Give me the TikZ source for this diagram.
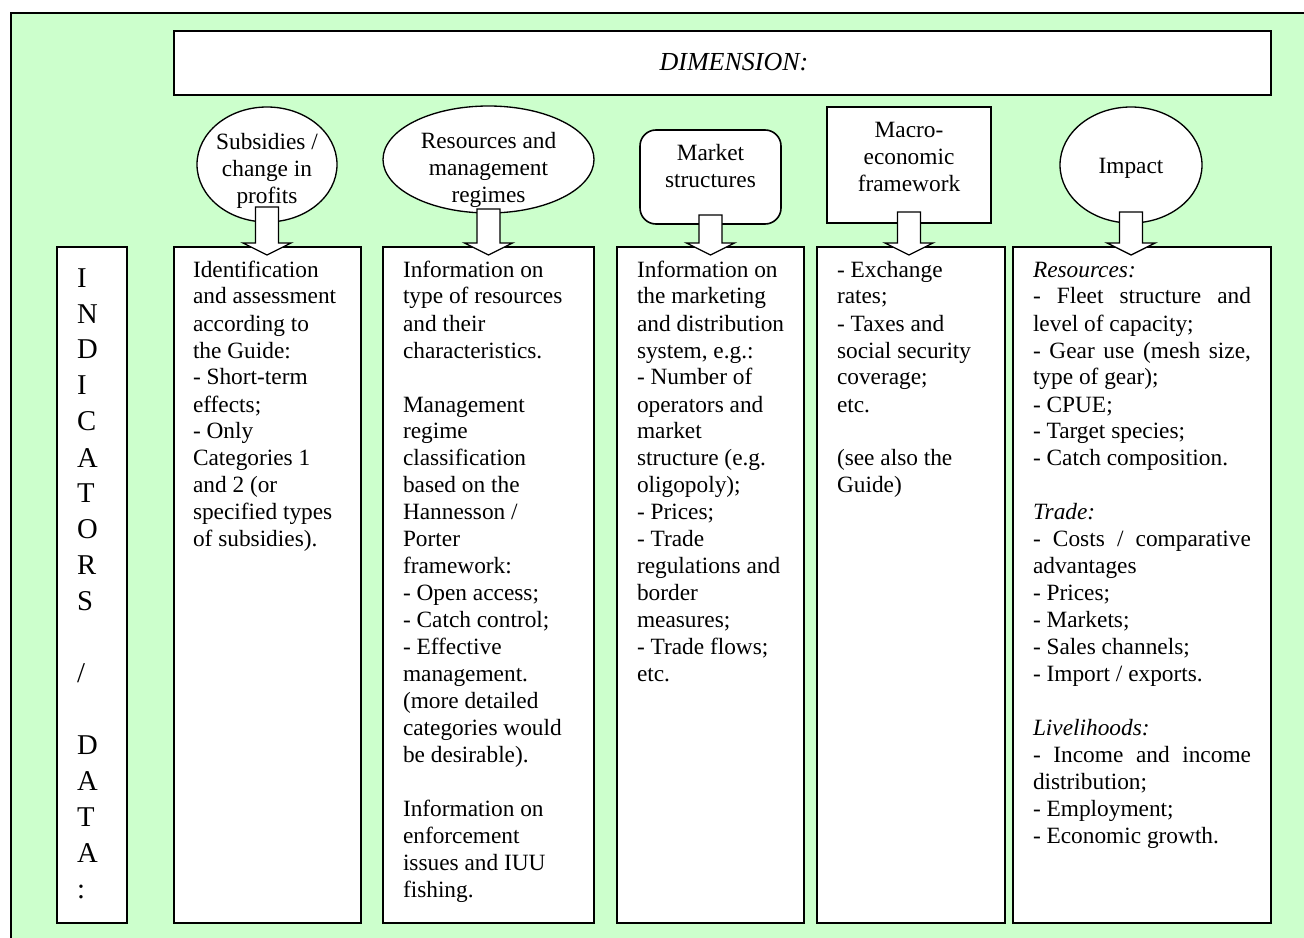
\documentclass[tikz,border=0pt]{standalone}
\usepackage{fontspec}
\setmainfont{Liberation Serif}
\usetikzlibrary{shapes.geometric,calc}
\definecolor{bggreen}{HTML}{CCFFCC}
\newcommand\ltext[1]{\parbox[t]{230pt}{\raggedright\fontsize{17.5}{20.25}\selectfont #1}}
\newcommand\ctext[1]{\parbox[t]{200pt}{\centering\fontsize{17.5}{20.25}\selectfont #1}}
\newcommand\jline[1]{\makebox[163.5pt][s]{#1}}
\newcommand\blockarrow[3]{%
  \coordinate (tip) at ($(#1.south |- #2.north)+(0,8)$);
  \draw[barrow] ($(tip)+(-11.5,-8-#3)$) -- ($(tip)+(-11.5,-12)$) -- ($(tip)+(-24,-12)$)
    -- (tip) -- ($(tip)+(24,-12)$) -- ($(tip)+(11.5,-12)$) -- ($(tip)+(11.5,-8-#3)$) -- cycle;}
\begin{document}
\begin{tikzpicture}[x=0.75pt,y=-0.75pt,
  box/.style={draw=black, line width=1.2pt, fill=white, inner sep=0pt, outer sep=0pt, anchor=north west},
  oval/.style={ellipse, draw=black, line width=1pt, fill=white, inner sep=0pt, outer sep=0pt},
  txt/.style={inner sep=0pt, outer sep=0pt, anchor=base west},
  ctxt/.style={inner sep=0pt, outer sep=0pt, anchor=base},
  barrow/.style={draw=black, line width=1pt, fill=white, line join=miter}]
\useasboundingbox (0,0) rectangle (1304,938);
\clip (0,0) rectangle (1304,938);
\fill[white] (0,0) rectangle (1304,938);
\draw[fill=bggreen, line width=1.1pt] (11,13) rectangle (1330,970);

% title
\node[box, minimum width=1097*0.75pt, minimum height=64*0.75pt] (dim) at (174,31) {};
\node[ctxt, font=\fontsize{19.5}{22}\selectfont\itshape] (dimt) at (734,71) {DIMENSION:};

% upper shapes
\node[oval, minimum width=140*0.75pt, minimum height=115*0.75pt] (e1) at (267,164.5) {};
\node[ctxt] (e1t) at (267,150) {\ctext{Subsidies /\\change in\\profits}};
\node[oval, minimum width=211*0.75pt, minimum height=107*0.75pt] (e2) at (488.5,159.5) {};
\node[ctxt] (e2t) at (488.5,149) {\ctext{Resources and\\management\\regimes}};
\node[box, rounded corners=12pt, minimum width=141*0.75pt, minimum height=94*0.75pt] (m3) at (640,130) {};
\node[ctxt] (m3t) at (710.5,161) {\ctext{Market\\structures}};
\node[box, minimum width=164*0.75pt, minimum height=116*0.75pt] (m4) at (827,107) {};
\node[ctxt] (m4t) at (909,138) {\ctext{Macro-\\economic\\framework}};
\node[oval, minimum width=142*0.75pt, minimum height=116*0.75pt] (e5) at (1131,165) {};
\node[ctxt] (e5t) at (1131,174) {\ctext{Impact}};

% lower boxes
\node[box, minimum width=70*0.75pt, minimum height=676*0.75pt] (ind) at (57,247) {};
\node[box, minimum width=187*0.75pt, minimum height=676*0.75pt] (b1) at (174,247) {};
\node[box, minimum width=211*0.75pt, minimum height=676*0.75pt] (b2) at (383,247) {};
\node[box, minimum width=187*0.75pt, minimum height=676*0.75pt] (b3) at (617,247) {};
\node[box, minimum width=188*0.75pt, minimum height=676*0.75pt] (b4) at (817,247) {};
\node[box, minimum width=258*0.75pt, minimum height=676*0.75pt] (b5) at (1013,247) {};

% indicator column
\node[txt] (indt) at (77,287) {\parbox[t]{40pt}{\raggedright\fontsize{21.5}{27}\selectfont
I\\N\\D\\I\\C\\A\\T\\O\\R\\S\\[27pt]/\\[27pt]D\\A\\T\\A\\:}};

% texts
\node[txt] (b1t) at (193,277) {\ltext{Identification\\and assessment\\according to\\the Guide:\\- Short-term\\effects;\\- Only\\Categories 1\\and 2 (or\\specified types\\of subsidies).}};

\node[txt] (b2t) at (403,277) {\ltext{Information on\\type of resources\\and their\\characteristics.\\[20.25pt]Management\\regime\\classification\\based on the\\Hannesson /\\Porter\\framework:\\- Open access;\\- Catch control;\\- Effective\\management.\\(more detailed\\categories would\\be desirable).\\[20.25pt]Information on\\enforcement\\issues and IUU\\fishing.}};

\node[txt] (b3t) at (637,277) {\ltext{Information on\\the marketing\\and distribution\\system, e.g.:\\- Number of\\operators and\\market\\structure (e.g.\\oligopoly);\\- Prices;\\- Trade\\regulations and\\border\\measures;\\- Trade flows;\\etc.}};

\node[txt] (b4t) at (837,277) {\ltext{- Exchange\\rates;\\- Taxes and\\social security\\coverage;\\etc.\\[20.25pt](see also the\\Guide)}};

\node[txt] (b5t) at (1033,277) {\ltext{\textit{Resources:}\\\jline{- Fleet structure and}\\level of capacity;\\\jline{- Gear use (mesh size,}\\type of gear);\\- CPUE;\\- Target species;\\- Catch composition.\\[20.25pt]\textit{Trade:}\\\jline{- Costs / comparative}\\advantages\\- Prices;\\- Markets;\\- Sales channels;\\- Import / exports.\\[20.25pt]\textit{Livelihoods:}\\\jline{- Income and income}\\distribution;\\- Employment;\\- Economic growth.}};

% block arrows
\blockarrow{e1}{b1}{40}
\blockarrow{e2}{b2}{38}
\blockarrow{m3}{b3}{32}
\blockarrow{m4}{b4}{35}
\blockarrow{e5}{b5}{35}
\end{tikzpicture}
\end{document}
